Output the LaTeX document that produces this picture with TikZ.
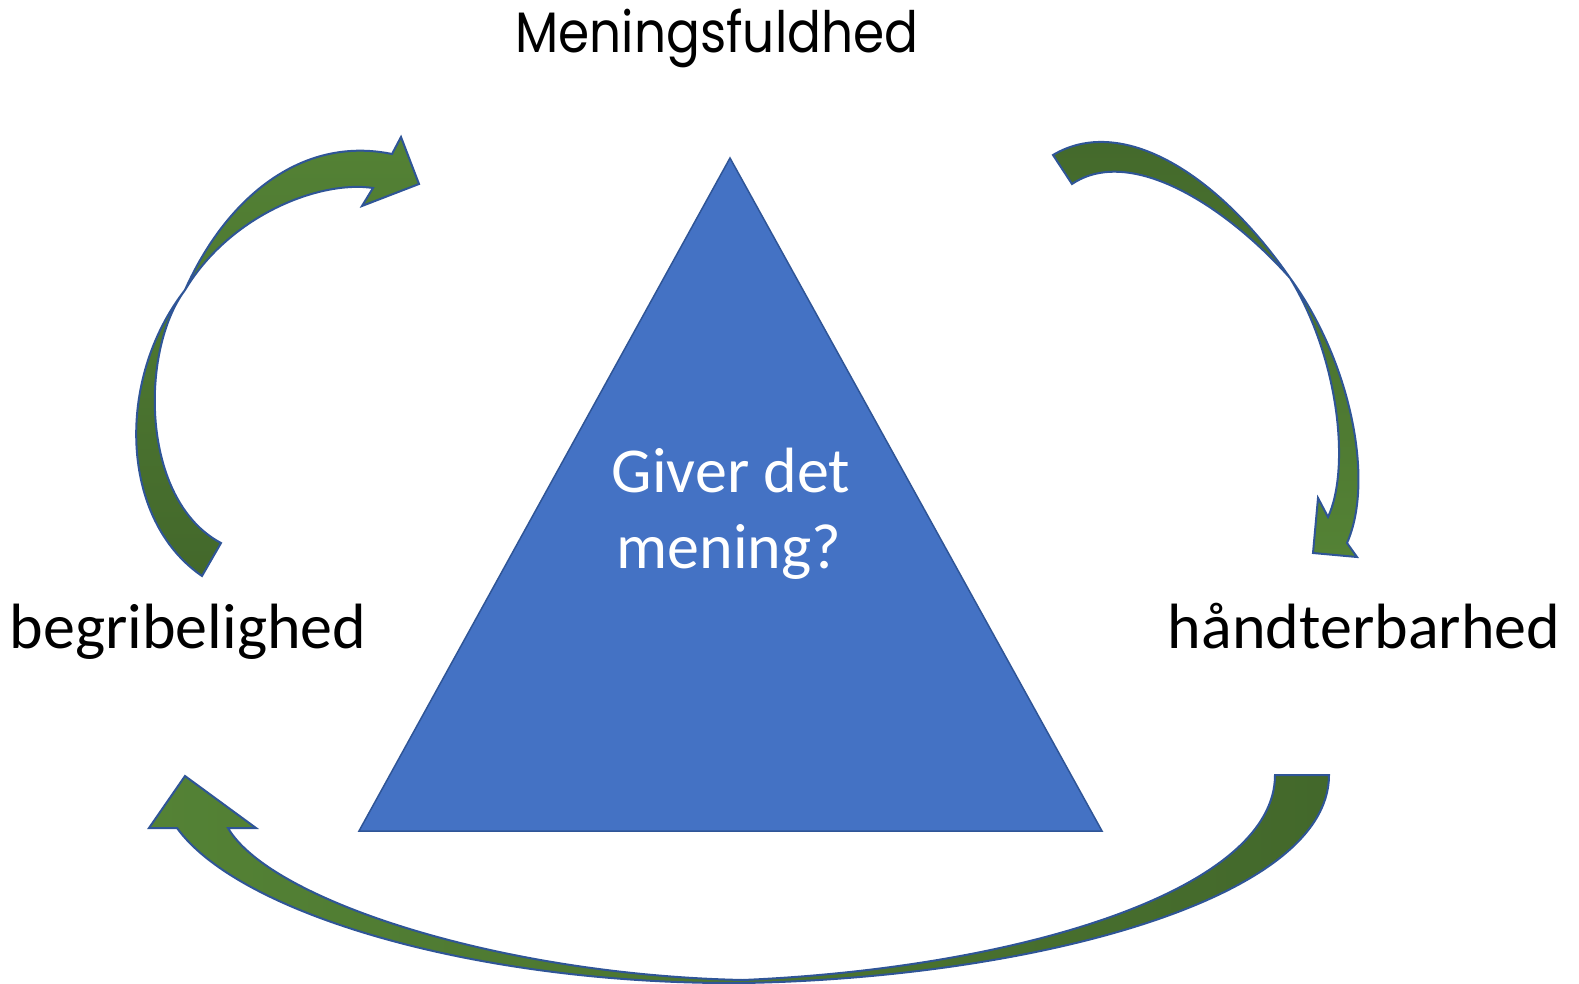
\documentclass[tikz,border=0pt]{standalone}
\usepackage{fontspec}
\setmainfont{Carlito}
\newfontfamily\titlefont{Poppins}
\usetikzlibrary{positioning}
\definecolor{triblue}{HTML}{4472C4}
\definecolor{edgeblue}{HTML}{2F5597}
\definecolor{leafgreen}{HTML}{548235}
\definecolor{darkleaf}{HTML}{43682B}
\tikzset{
  ribbon/.style={draw=edgeblue, line width=1pt, line join=miter},
  corner/.style={font=\fontsize{32}{39}\selectfont, text=black, inner sep=0pt,
                 anchor=base},
  titleword/.style={font=\titlefont\fontsize{28.5}{34}\selectfont, text=black,
                    inner sep=0pt, anchor=base},
  question/.style={font=\fontsize{32}{39}\selectfont, text=white, inner sep=0pt,
                   align=center, anchor=base},
}

\begin{document}
\begin{tikzpicture}[x=0.5pt, y=-0.5pt]
\useasboundingbox (0,0) rectangle (1579,984);

% ---------------------------------------------------------------- triangle
\path[draw=edgeblue, fill=triblue, line width=0.75pt]
  (730,158) -- (1102,831) -- (359,831) -- cycle;
\node[question] (ask) at (731,492) {Giver det};
\node[question] (ask2) at (729,568) {mening?};

% ---------------------------------------------------------------- labels
\node[titleword] (mening) at (717,53) {\scalebox{0.88}[1]{Meningsfuldhed}};
\node[corner] (begreb) at (188,648) {begribelighed};
\node[corner] (haand) at (1364,648) {håndterbarhed};

% ---------------------------------------------------------------- arrows
% left: begribelighed up to Meningsfuldhed
\path[ribbon, top color=leafgreen, bottom color=darkleaf]
  (202,576) .. controls (120,520) and (115,380) .. (185,290)
  .. controls (225,200) and (300,135) .. (392,154)
  -- (401,137) -- (419,184) -- (362,206) -- (373,188)
  .. controls (320,180) and (230,215) .. (185,290)
  .. controls (140,350) and (140,500) .. (221,543)
  -- cycle;

% right: Meningsfuldhed down to haandterbarhed
\path[ribbon, top color=darkleaf, bottom color=leafgreen]
  (1053,155) .. controls (1120,115) and (1215,170) .. (1290,278)
  .. controls (1350,360) and (1375,480) .. (1347,543)
  -- (1357,557) -- (1313,553) -- (1318,498) -- (1328,517)
  .. controls (1350,470) and (1340,360) .. (1290,278)
  .. controls (1225,205) and (1130,145) .. (1072,184)
  -- cycle;

% bottom: haandterbarhed back to begribelighed
\path[ribbon, left color=leafgreen, right color=darkleaf]
  (1275,775) -- (1329,775)
  .. controls (1329,900) and (1030,978) .. (743,983)
  .. controls (480,985) and (240,915) .. (177,828)
  -- (149,828) -- (185,776) -- (256,828) -- (228,828)
  .. controls (270,900) and (500,975) .. (743,980)
  .. controls (1020,968) and (1275,890) .. (1275,775)
  -- cycle;

\end{tikzpicture}
\end{document}
